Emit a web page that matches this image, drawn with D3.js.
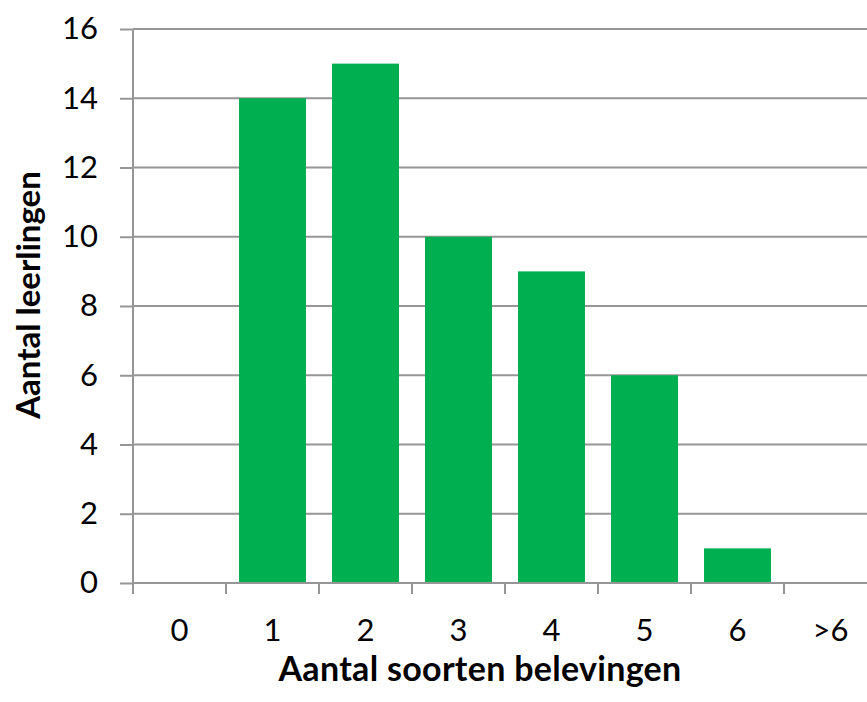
<!DOCTYPE html>
<html>
<head>
<meta charset="utf-8">
<script src="https://cdn.jsdelivr.net/npm/d3@7"></script>
<style>
  html, body { margin: 0; padding: 0; background: #fff; }
  svg { display: block; }
  text { font-family: Lato, "Open Sans", sans-serif; fill: #000; }
</style>
</head>
<body>
<svg id="chart" width="867" height="702"></svg>
<script>
// Number of pupils per number of experience types
const categories = ["0", "1", "2", "3", "4", "5", "6", ">6"];
const pupils = [0, 14, 15, 10, 9, 6, 1, 0];
const yTicks = [0, 2, 4, 6, 8, 10, 12, 14, 16];
const xTitle = "Aantal soorten belevingen";
const yTitle = "Aantal leerlingen";

const svg = d3.select("#chart");
const plot = { left: 133, top: 29, right: 877, bottom: 583 };
const grid = "#969696";

const x = d3.scaleBand()
  .domain(categories)
  .range([plot.left, plot.right])
  .paddingInner(0.28)
  .paddingOuter(0.14);

const y = d3.scaleLinear()
  .domain([0, 16])
  .range([plot.bottom, plot.top]);

// horizontal gridlines
svg.append("g")
  .selectAll("line")
  .data(yTicks.filter(d => d > 0))
  .join("line")
  .attr("x1", plot.left)
  .attr("x2", 867)
  .attr("y1", d => y(d))
  .attr("y2", d => y(d))
  .attr("stroke", grid)
  .attr("stroke-width", 2);

// bars
svg.append("g")
  .selectAll("rect")
  .data(categories.map((c, i) => ({ c, v: pupils[i] })))
  .join("rect")
  .attr("x", d => x(d.c))
  .attr("width", x.bandwidth())
  .attr("y", d => y(d.v))
  .attr("height", d => y(0) - y(d.v))
  .attr("fill", "#00B050");

// y axis
const yAxis = svg.append("g")
  .attr("transform", `translate(${plot.left},0)`)
  .call(d3.axisLeft(y).tickValues(yTicks).tickSize(13).tickPadding(22));
yAxis.select(".domain").attr("stroke", grid).attr("stroke-width", 2)
  .attr("d", `M0,${plot.bottom}V${plot.top}`);
yAxis.selectAll(".tick line").attr("stroke", grid).attr("stroke-width", 2);
yAxis.selectAll(".tick text")
  .attr("font-size", 31)
  .attr("font-family", "Lato, sans-serif")
  .attr("fill", "#000");

// x axis: ticks sit on category boundaries
const step = x.step();
const boundaries = d3.range(categories.length + 1).map(i => plot.left + i * step);
const xAxis = svg.append("g");
xAxis.append("line")
  .attr("x1", plot.left).attr("x2", 867)
  .attr("y1", plot.bottom).attr("y2", plot.bottom)
  .attr("stroke", grid).attr("stroke-width", 2);
xAxis.selectAll("line.tk")
  .data(boundaries)
  .join("line")
  .attr("class", "tk")
  .attr("x1", d => d).attr("x2", d => d)
  .attr("y1", plot.bottom).attr("y2", plot.bottom + 11)
  .attr("stroke", grid).attr("stroke-width", 2);
xAxis.selectAll("text")
  .data(categories)
  .join("text")
  .attr("x", d => x(d) + x.bandwidth() / 2)
  .attr("y", 641)
  .attr("text-anchor", "middle")
  .attr("font-size", 31)
  .text(d => d);

// axis titles
svg.append("text")
  .attr("x", 480)
  .attr("y", 681)
  .attr("text-anchor", "middle")
  .attr("font-size", 34)
  .attr("font-weight", "bold")
  .attr("letter-spacing", 0.3)
  .text(xTitle);

svg.append("text")
  .attr("transform", "translate(40,295) rotate(-90)")
  .attr("text-anchor", "middle")
  .attr("font-size", 33)
  .attr("font-weight", "bold")
  .text(yTitle);
</script>
</body>
</html>
